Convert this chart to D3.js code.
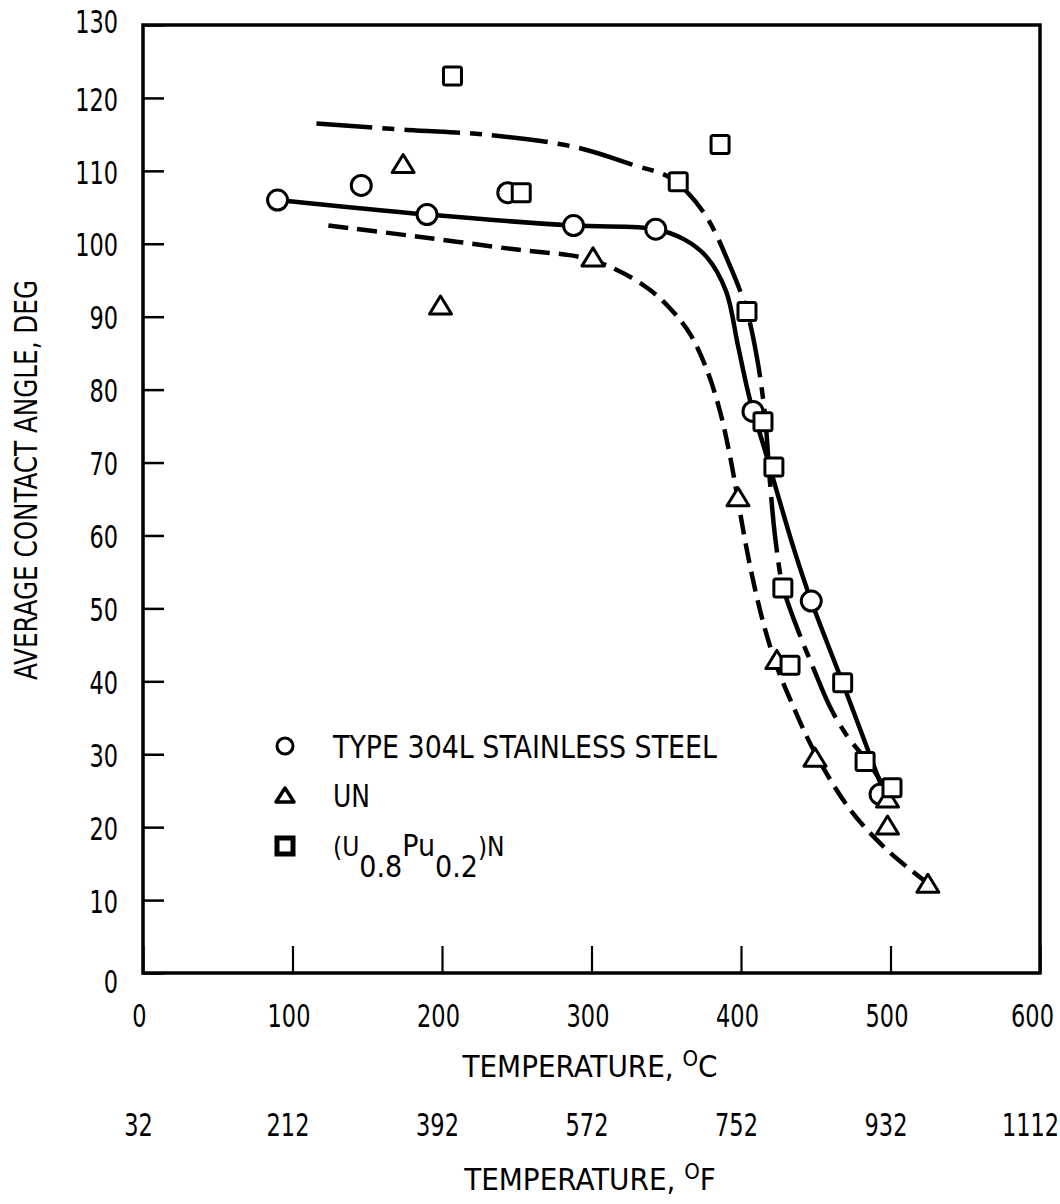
<!DOCTYPE html>
<html>
<head>
<meta charset="utf-8">
<script src="https://cdn.jsdelivr.net/npm/d3@7"></script>
<style>
  html, body { margin: 0; padding: 0; background: #fff; }
  svg { display: block; }
  text { font-family: "DejaVu Sans Condensed", "Liberation Sans Narrow", sans-serif; fill: #000; }
</style>
</head>
<body>
<svg id="chart" width="1060" height="1204"></svg>
<script>
// ---------- data ----------
const xTicksC = [0, 100, 200, 300, 400, 500, 600];
const xTicksF = [32, 212, 392, 572, 752, 932, 1112];
const yTicks = [0, 10, 20, 30, 40, 50, 60, 70, 80, 90, 100, 110, 120, 130];

// Type 304L stainless steel (circles)
const steelPts = [[90,106],[146,108],[190,104],[244,107],[288,102.5],[343,102],[408,77],[447,51],[493,24.5]];
// UN (triangles)
const unPts = [[174,111],[199,91.6],[301,98.2],[398,65.3],[424,43],[449.5,29.6],[498,20.3],[498,24],[525,12.3]];
// (U0.8Pu0.2)N (squares)
const upuPts = [[207,123],[253,107],[358,108.5],[386,113.6],[404,90.7],[414.7,75.6],[422,69.4],[428,52.8],[432.8,42.2],[468,39.8],[483,29],[501,25.4]];

// fitted curves (traced)
const steelCurve = [[90,106],[190,104],[288,102.5],[343,102],[362,100.6],[377,98.2],[390,93.5],[398,86],[406,78.6],[416,71.7],[435,58.4],[447,51],[468,39.8],[496,24.5]];
const unCurve = [[124,102.5],[183,101],[250,99.2],[294,98.1],[317,96.4],[339,93.7],[354,90.8],[366,87.6],[377,82.8],[386,77],[393,70.5],[398,64.8],[403,59],[409,53],[416,47.2],[424,42],[434,37],[449.5,30.2],[473,22.4],[497.6,16.9],[525,12.3]];
const upuCurve = [[116,116.5],[177,115.6],[227,115],[288,113.3],[328,110.8],[353,109],[375,104.3],[393,96.8],[404,90.7],[411,84],[416,76.5],[419.5,67],[423,59.5],[428,53],[437,47.6],[448,42],[460,36.3],[472,32.2],[484,29.2],[496,25.5]];

// ---------- layout ----------
const svg = d3.select("#chart");
const L = 143, R = 1040, T = 25, B = 973;
const x = d3.scaleLinear().domain([0, 600]).range([L, R]);
const xF = d3.scaleLinear().domain([32, 1112]).range([L, R]);
const y = d3.scaleLinear().domain([0, 130]).range([B, T]);

const fontTick = 32, sx = 0.78;

// x axis (Celsius)
const gx = svg.append("g").attr("transform", `translate(0,${B})`)
  .call(d3.axisBottom(x).tickValues(xTicksC).tickSizeInner(-27).tickSizeOuter(0).tickPadding(31).tickFormat(d3.format("d")));
gx.select(".domain").remove();
gx.selectAll("line").attr("stroke", "#000").attr("stroke-width", 2.2);
gx.selectAll("text").attr("font-size", fontTick)
  .attr("x", d => (d === 600 ? -8 : -4) / sx).attr("transform", `scale(${sx},1)`);

// y axis
const gy = svg.append("g").attr("transform", `translate(${L},0)`)
  .call(d3.axisLeft(y).tickValues(yTicks).tickSizeInner(-21).tickSizeOuter(0).tickPadding(24).tickFormat(d3.format("d")));
gy.select(".domain").remove();
gy.selectAll("line").attr("stroke", "#000").attr("stroke-width", 2.5);
gy.selectAll("text").attr("font-size", fontTick)
  .attr("x", -25 / sx).attr("transform", `scale(${sx},1)`)
  .attr("dy", d => d === 0 ? "0.62em" : (d === 130 ? "0.22em" : "0.38em"));

// Fahrenheit axis
const gf = svg.append("g").attr("transform", `translate(0,${B + 140})`)
  .call(d3.axisBottom(xF).tickValues(xTicksF).tickSize(0).tickPadding(0).tickFormat(d3.format("d")));
gf.select(".domain").remove();
gf.selectAll("text").attr("font-size", fontTick).attr("dy", "0.71em")
  .attr("x", d => (d === 1112 ? -10 : -5) / sx).attr("transform", `scale(${sx},1)`);

// frame
svg.append("rect").attr("x", L).attr("y", T).attr("width", R - L).attr("height", B - T)
  .attr("fill", "none").attr("stroke", "#000").attr("stroke-width", 3.5);

// axis titles
function tempTitle(ty, unit) {
  const t = svg.append("text").attr("x", 590).attr("y", ty).attr("text-anchor", "middle").attr("font-size", 31);
  t.append("tspan").text("TEMPERATURE,  ");
  t.append("tspan").attr("font-size", 22).attr("dy", -11).text("O");
  t.append("tspan").attr("dy", 11).text(unit);
}
tempTitle(1077, "C");
tempTitle(1190, "F");

svg.append("text").attr("transform", "translate(37,480) rotate(-90)")
  .attr("text-anchor", "middle").attr("font-size", 32)
  .attr("textLength", 400).attr("lengthAdjust", "spacingAndGlyphs")
  .text("AVERAGE CONTACT ANGLE,  DEG");

// ---------- curves ----------
const line = d3.line().x(d => x(d[0])).y(d => y(d[1])).curve(d3.curveCatmullRom.alpha(0.5));
const gc = svg.append("g").attr("fill", "none").attr("stroke", "#000").attr("stroke-width", 4.5).attr("stroke-linecap", "butt");
gc.append("path").attr("d", line(steelCurve));
gc.append("path").attr("d", line(unCurve)).attr("stroke-dasharray", "20,9");
gc.append("path").attr("d", line(upuCurve)).attr("stroke-dasharray", "56,10,12,10");

// ---------- markers ----------
function triPath(cx, cy, w, h) {
  return `M${cx - w / 2},${cy + h / 2}L${cx},${cy - h / 2}L${cx + w / 2},${cy + h / 2}Z`;
}
const gm = svg.append("g").attr("fill", "#fff").attr("stroke", "#000").attr("stroke-width", 3);
gm.selectAll("circle.s").data(steelPts).join("circle")
  .attr("cx", d => x(d[0])).attr("cy", d => y(d[1])).attr("r", 10);
gm.selectAll("path.t").data(unPts).join("path")
  .attr("d", d => triPath(x(d[0]), y(d[1]), 22, 18)).attr("stroke-linejoin", "round");
gm.selectAll("rect.q").data(upuPts).join("rect")
  .attr("x", d => x(d[0]) - 9).attr("y", d => y(d[1]) - 9).attr("width", 18).attr("height", 18).attr("rx", 2);

// ---------- legend ----------
const lg = svg.append("g");
const lx = 285, tx = 333;
const ly = [746, 795, 846];
lg.append("circle").attr("cx", lx).attr("cy", ly[0]).attr("r", 8)
  .attr("fill", "#fff").attr("stroke", "#000").attr("stroke-width", 3);
lg.append("path").attr("d", triPath(lx, ly[1], 18, 14))
  .attr("fill", "#fff").attr("stroke", "#000").attr("stroke-width", 3.5).attr("stroke-linejoin", "round");
lg.append("rect").attr("x", lx - 8).attr("y", ly[2] - 8).attr("width", 16).attr("height", 16)
  .attr("fill", "#fff").attr("stroke", "#000").attr("stroke-width", 5);
lg.append("text").attr("x", tx).attr("y", ly[0] + 12).attr("font-size", 32)
  .attr("textLength", 384).attr("lengthAdjust", "spacingAndGlyphs").text("TYPE 304L STAINLESS STEEL");
lg.append("text").attr("x", tx).attr("y", ly[1] + 12).attr("font-size", 32)
  .attr("textLength", 37).attr("lengthAdjust", "spacingAndGlyphs").text("UN");
const ft = lg.append("text").attr("x", tx).attr("y", ly[2] + 10).attr("font-size", 30);
ft.append("tspan").attr("font-size", 26).text("(U");
ft.append("tspan").attr("dy", 21).text("0.8");
ft.append("tspan").attr("dy", -21).text("Pu");
ft.append("tspan").attr("dy", 21).text("0.2");
ft.append("tspan").attr("dy", -21).attr("font-size", 26).text(")N");
</script>
</body>
</html>
